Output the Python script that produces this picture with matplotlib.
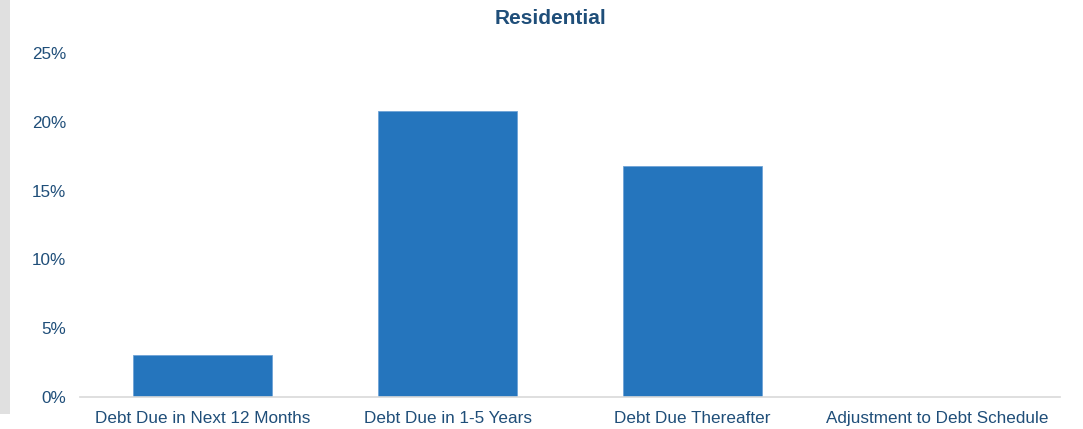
import matplotlib

matplotlib.use("Agg")
import matplotlib.pyplot as plt
from matplotlib.patches import Rectangle
from matplotlib.ticker import FuncFormatter

categories = [
    "Debt Due in Next 12 Months",
    "Debt Due in 1-5 Years",
    "Debt Due Thereafter",
    "Adjustment to Debt Schedule",
]
shares = [3.05, 20.8, 16.8, 0.0]  # percent of total
y_ticks = [0, 5, 10, 15, 20, 25]

TEXT = "#1f4e79"
BAR = "#2575bd"

plt.rcParams["font.family"] = ["Liberation Sans", "DejaVu Sans"]

fig = plt.figure(figsize=(10.83, 4.29), dpi=100)
fig.patches.append(Rectangle((0, 15 / 429), 10 / 1083, 1 - 15 / 429,
                             transform=fig.transFigure, facecolor="#e0e0e0",
                             edgecolor="none", zorder=0))

ax = fig.add_axes([80 / 1083, 32 / 429, 980 / 1083, 344 / 429])
x = range(len(categories))
ax.bar(x, shares, width=0.57, color=BAR, edgecolor="#6fa3d6", linewidth=0.6, zorder=2)

ax.set_xlim(-0.5, len(categories) - 0.5)
ax.set_ylim(0, 25)
ax.set_yticks(y_ticks)
ax.yaxis.set_major_formatter(FuncFormatter(lambda v, _: f"{v:.0f}%"))
ax.set_xticks(list(x))
ax.set_xticklabels(categories)

ax.tick_params(axis="both", length=0, colors=TEXT, labelsize=12.3)
ax.tick_params(axis="y", pad=10)
ax.tick_params(axis="x", pad=10)

for side in ("top", "right", "left"):
    ax.spines[side].set_visible(False)
ax.spines["bottom"].set_color("#d9d9d9")
ax.spines["bottom"].set_linewidth(1.2)

fig.text(550 / 1083, 1 - 18 / 429, "Residential", ha="center", va="center",
         fontsize=15, fontweight="bold", color=TEXT)

fig.savefig("out.png", dpi=100)
